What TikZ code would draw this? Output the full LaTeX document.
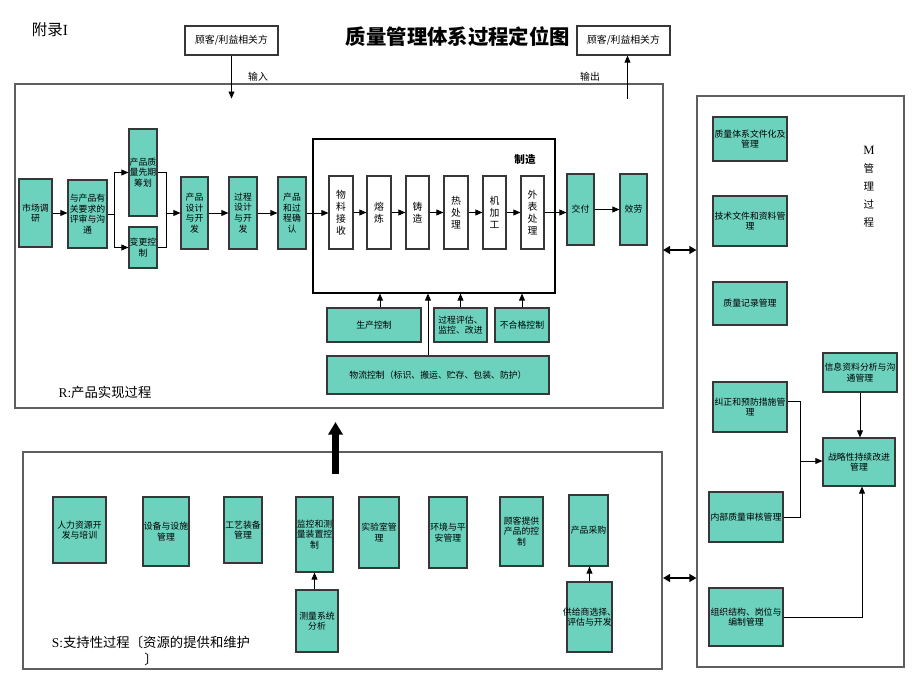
\documentclass[tikz,border=0pt]{standalone}
\usepackage{fontspec}
\setmainfont{Noto Sans CJK SC}
\newfontfamily\lat{Liberation Serif}
\usetikzlibrary{arrows.meta,fit,calc}

\definecolor{mint}{RGB}{108,210,190}
\definecolor{edge}{RGB}{55,55,55}
\definecolor{frameline}{RGB}{95,95,95}

\begin{document}
\begin{tikzpicture}[x=0.025cm,y=-0.025cm,
  box/.style={draw=edge,fill=mint,line width=0.8pt,inner sep=0pt},
  wbox/.style={box,fill=white},
  txt/.style={label={[align=center,font=\fontsize{6.3}{7.6}\selectfont]center:#1}},
  wtxt/.style={label={[align=center,font=\fontsize{7}{8.6}\selectfont]center:#1}},
  frame/.style={draw=frameline,line width=0.8pt,inner sep=0pt},
  arr/.style={-{Triangle[length=5pt,width=4.2pt]},draw=black,line width=0.6pt},
  dbl/.style={{Triangle[length=5pt,width=5.5pt]}-{Triangle[length=5pt,width=5.5pt]},line width=2pt},
  bigarr/.style={-{Triangle[length=9pt,width=10pt]},line width=5pt}]
\useasboundingbox (0,0) rectangle (920,690);

% frames
\node[frame,fit={(15,84) (663,408)}] (R) {};
\node[frame,fit={(697,96) (904,667)}] (M) {};
\node[frame,fit={(23,452) (662,669)}] (S) {};
\node[frame,draw=black,fit={(313,139) (555,293)}] (mfg) {};

% heading
\node[font=\fontsize{11}{12}\selectfont] (appx) at (50,30) {附录{\lat I}};
\node[font=\bfseries\fontsize{14.5}{16}\selectfont] (title) at (458,37) {质量管理体系过程定位图};
\node[wbox,fit={(185,26) (278,55)},wtxt={顾客/利益相关方}] (cin) {};
\node[wbox,fit={(577,26) (670,55)},wtxt={顾客/利益相关方}] (cout) {};
\node[font=\fontsize{7}{8}\selectfont] (lin) at (258,77) {输入};
\node[font=\fontsize{7}{8}\selectfont] (lout) at (590,77) {输出};
\draw[arr] (cin.south) -- ($(cin.south)+(0,43)$);
\draw[arr] ($(cout.south)+(4,43)$) -- ($(cout.south)+(4,0)$);

% R: product realisation
\node[box,fit={(19,179) (52,247)},txt={市场调\\研}] (mkt) {};
\node[box,fit={(68,180) (107,248)},txt={与产品有\\关要求的\\评审与沟\\通}] (req) {};
\node[box,fit={(129,129) (157,216)},txt={产品质\\量先期\\筹划}] (apqp) {};
\node[box,fit={(129,227) (157,268)},txt={变更控\\制}] (chg) {};
\node[box,fit={(181,177) (208,249)},txt={产品\\设计\\与开\\发}] (pdd) {};
\node[box,fit={(229,177) (257,249)},txt={过程\\设计\\与开\\发}] (prd) {};
\node[box,fit={(278,177) (306,249)},txt={产品\\和过\\程确\\认}] (val) {};

\node[font=\bfseries\fontsize{7.5}{9}\selectfont] (mfglab) at (525,160) {制造};
\foreach \n/\xa/\xb/\t in {recv/329/353/{物\\料\\接\\收},melt/367/391/{熔\\炼},
    cast/406/429/{铸\\造},heat/444/468/{热\\处\\理},mach/483/506/{机\\加\\工},
    surf/521/544/{外\\表\\处\\理}}{
  \node[wbox,fit={(\xa,176) (\xb,249)},wtxt={\t}] (\n) {};
}
\node[box,fit={(567,174) (594,245)},txt={交付}] (dlv) {};
\node[box,fit={(620,174) (647,245)},txt={效劳}] (svc) {};

\node[box,fit={(327,308) (421,342)},txt={生产控制}] (pc) {};
\node[box,fit={(434,308) (487,342)},txt={过程评估、\\监控、改进}] (pe) {};
\node[box,fit={(495,308) (549,342)},txt={不合格控制}] (nc) {};
\node[box,fit={(327,356) (549,394)},txt={物流控制（标识、搬运、贮存、包装、防护）}] (lg) {};
\node[font=\fontsize{9.5}{10}\selectfont] (rlab) at (105,392) {{\lat R:}产品实现过程};

\draw[arr] (mkt.east) -- (req.west |- mkt.east);
\coordinate (sp) at ($(req.east)+(7,0)$);
\draw[arr] (req.east) -- (sp) |- (apqp.west);
\draw[arr] (sp) |- (chg.west);
\coordinate (mg) at ($(apqp.east)+(9,0)$);
\draw (apqp.east) -- (mg) |- (chg.east);
\draw[arr] (mg |- pdd.west) -- (pdd.west);
\draw[arr] (pdd) -- (prd);
\draw[arr] (prd) -- (val);
\draw[arr] (val.east) -- (recv.west |- val.east);
\foreach \a/\b in {recv/melt,melt/cast,cast/heat,heat/mach,mach/surf}
  \draw[arr] (\a) -- (\b);
\draw[arr] (surf.east) -- (dlv.west |- surf.east);
\draw[arr] (dlv) -- (svc);

\coordinate (pcn) at ($(pc.north)+(6,0)$);
\draw[arr] (pcn) -- (pcn |- mfg.south);
\draw[arr] (pe.north) -- (pe.north |- mfg.south);
\draw[arr] (nc.north) -- (nc.north |- mfg.south);
\coordinate (lgn) at ($(lg.north west)!0.455!(lg.north east)$);
\draw[arr] (lgn) -- (lgn |- mfg.south);

% M: management
\node[box,fit={(713,117) (787,161)},txt={质量体系文件化及\\管理}] (qms) {};
\node[box,fit={(713,196) (787,246)},txt={技术文件和资料管\\理}] (doc) {};
\node[box,fit={(713,282) (787,325)},txt={质量记录管理}] (rec) {};
\node[box,fit={(823,353) (897,392)},txt={信息资料分析与沟\\通管理}] (info) {};
\node[box,fit={(713,382) (787,432)},txt={纠正和预防措施管\\理}] (cpa) {};
\node[box,fit={(823,438) (895,486)},txt={战略性持续改进\\管理}] (imp) {};
\node[box,fit={(709,492) (783,542)},txt={内部质量审核管理}] (aud) {};
\node[box,fit={(709,588) (783,646)},txt={组织结构、岗位与\\编制管理}] (org) {};
\node[font=\fontsize{7.5}{12.8}\selectfont,align=center] (mlab) at (869,187)
  {{\lat\fontsize{9}{12.8}\selectfont M}\\管\\理\\过\\程};

\coordinate (cpe) at ($(cpa.east)+(0,-6)$);
\coordinate (mj) at (800,461);
\draw (cpe) -| (mj) |- (aud.east);
\draw[arr] (mj) -- (mj -| imp.west);
\draw[arr] (info.south) -- (info.south |- imp.north);
\draw[arr] (org.east) -| ($(imp.south)+(3,0)$);

% S: support
\node[box,fit={(53,497) (106,563)},txt={人力资源开\\发与培训}] (hr) {};
\node[box,fit={(143,497) (189,566)},txt={设备与设施\\管理}] (eq) {};
\node[box,fit={(224,497) (262,563)},txt={工艺装备\\管理}] (tool) {};
\node[box,fit={(296,497) (333,572)},txt={监控和测\\量装置控\\制}] (mon) {};
\node[box,fit={(296,590) (338,652)},txt={测量系统\\分析}] (msa) {};
\node[box,fit={(359,497) (399,568)},txt={实验室管\\理}] (lab) {};
\node[box,fit={(429,497) (467,568)},txt={环境与平\\安管理}] (env) {};
\node[box,fit={(500,497) (543,566)},txt={顾客提供\\产品的控\\制}] (cust) {};
\node[box,fit={(569,495) (608,566)},txt={产品采购}] (pur) {};
\node[box,fit={(567,582) (612,652)},txt={供给商选择、\\评估与开发}] (sup) {};
\node[font=\fontsize{9.5}{11.5}\selectfont,align=center] (slab) at (151,651)
  {{\lat S:}支持性过程〔资源的提供和维护\\〕};

\draw[arr] (mon.south |- msa.north) -- (mon.south);
\draw[arr] (sup.north) -- (sup.north |- pur.south);

% links between the processes
\coordinate (rm) at (663,250);
\draw[dbl] (rm) -- (rm -| M.west);
\coordinate (sm) at (663,578);
\draw[dbl] (sm) -- (sm -| M.west);
\coordinate (sa) at (335.5,474);
\coordinate (ra) at (335.5,422);
\draw[bigarr] (sa) -- (ra);
\end{tikzpicture}
\end{document}
